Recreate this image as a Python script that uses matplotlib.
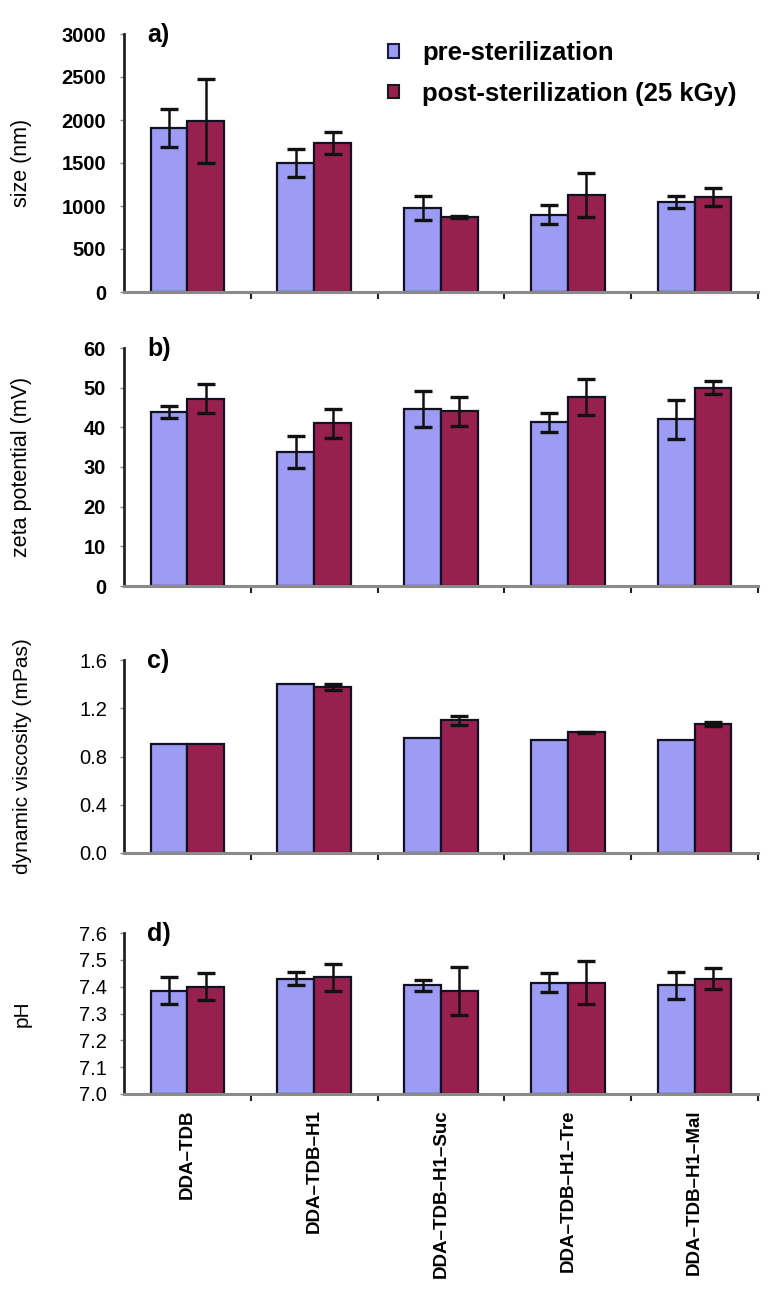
"""
Liposome properties before / after gamma sterilization (four stacked bar panels).
"""

import matplotlib
matplotlib.use("Agg")
import matplotlib.pyplot as plt
from matplotlib.patches import Patch
import numpy as np

plt.rcParams["font.family"] = ["Liberation Sans", "DejaVu Sans"]

# --- data ---
categories = ["DDA\u2013TDB", "DDA\u2013TDB\u2013H1", "DDA\u2013TDB\u2013H1\u2013Suc",
              "DDA\u2013TDB\u2013H1\u2013Tre", "DDA\u2013TDB\u2013H1\u2013Mal"]
series = ["pre-sterilization", "post-sterilization (25 kGy)"]

size_pre = [1910, 1500, 975, 900, 1045]
size_pre_err = [220, 160, 140, 110, 70]
size_post = [1990, 1730, 870, 1125, 1105]
size_post_err = [490, 125, 15, 255, 100]

zeta_pre = [43.8, 33.7, 44.7, 41.3, 42.0]
zeta_pre_err = [1.5, 4.0, 4.5, 2.4, 5.0]
zeta_post = [47.2, 41.0, 44.0, 47.7, 50.0]
zeta_post_err = [3.6, 3.6, 3.7, 4.6, 1.7]

visc_pre = [0.90, 1.40, 0.95, 0.94, 0.94]
visc_pre_err = [0, 0, 0, 0, 0]
visc_post = [0.90, 1.38, 1.10, 1.00, 1.07]
visc_post_err = [0, 0.025, 0.035, 0.005, 0.015]

ph_pre = [7.385, 7.43, 7.405, 7.415, 7.405]
ph_pre_err = [0.05, 0.025, 0.02, 0.035, 0.05]
ph_post = [7.40, 7.435, 7.385, 7.415, 7.43]
ph_post_err = [0.05, 0.05, 0.09, 0.08, 0.04]

# --- style ---
PRE_COLOR = "#9C9CF5"
POST_COLOR = "#98204F"
EDGE = "#111122"
W, H = 779, 1293

# axes boxes in pixels: (top, bottom)
PANELS = [
    dict(top=34, bot=292, pre=size_pre, pre_err=size_pre_err, post=size_post,
         post_err=size_post_err, ylim=(0, 3000), yticks=np.arange(0, 3001, 500),
         fmt="{:.0f}", ylabel="size (nm)", tag="a)", bold=True, lsize=15.5, base=0),
    dict(top=348, bot=586, pre=zeta_pre, pre_err=zeta_pre_err, post=zeta_post,
         post_err=zeta_post_err, ylim=(0, 60), yticks=np.arange(0, 61, 10),
         fmt="{:.0f}", ylabel="zeta potential (mV)", tag="b)", bold=True, lsize=15.5, base=0),
    dict(top=660, bot=853, pre=visc_pre, pre_err=visc_pre_err, post=visc_post,
         post_err=visc_post_err, ylim=(0, 1.6), yticks=np.arange(0, 1.61, 0.4),
         fmt="{:.1f}", ylabel="dynamic viscosity (mPas)", tag="c)", bold=False, lsize=15, base=0),
    dict(top=933, bot=1094, pre=ph_pre, pre_err=ph_pre_err, post=ph_post,
         post_err=ph_post_err, ylim=(7.0, 7.6), yticks=np.arange(7.0, 7.61, 0.1),
         fmt="{:.1f}", ylabel="pH", tag="d)", bold=False, lsize=15, base=7.0),
]

fig = plt.figure(figsize=(W / 100, H / 100), dpi=100)
fig.patch.set_facecolor("white")

x = np.arange(len(categories))
bw = 0.29
left, right = 124, 758

for i, p in enumerate(PANELS):
    ax = fig.add_axes([left / W, 1 - p["bot"] / H, (right - left) / W, (p["bot"] - p["top"]) / H])
    base = p["base"]
    for off, vals, errs, col in [(-bw / 2, p["pre"], p["pre_err"], PRE_COLOR),
                                 (bw / 2, p["post"], p["post_err"], POST_COLOR)]:
        vals = np.array(vals, dtype=float)
        errs = np.array(errs, dtype=float)
        ax.bar(x + off, vals - base, bw, bottom=base, color=col,
               edgecolor=EDGE, linewidth=1.6, zorder=2)
        m = errs > 0
        ax.errorbar(x[m] + off, vals[m], yerr=errs[m], fmt="none", ecolor="#111111",
                    elinewidth=1.8, capsize=6.5, capthick=2.4, zorder=3)

    ax.set_xlim(-0.5, len(categories) - 0.5)
    ax.set_ylim(*p["ylim"])
    ax.set_yticks(p["yticks"])
    ax.set_yticklabels([p["fmt"].format(v) for v in p["yticks"]],
                       fontsize=14.5, fontweight="bold" if p["bold"] else "normal")
    ax.tick_params(axis="y", length=3, width=1, color="#888888",
                   pad=10 if p["bold"] else 9)

    ax.set_xticks(x)
    ax.set_xticks(np.arange(0.5, len(categories), 1.0), minor=True)
    ax.tick_params(axis="x", which="major", length=0, pad=11)
    ax.tick_params(axis="x", which="minor", length=5, width=1.5, color="#222222")
    if i == len(PANELS) - 1:
        ax.set_xticklabels(categories, rotation=90, fontsize=13.5, fontweight="bold",
                           va="top", ha="center")
    else:
        ax.set_xticklabels([])

    for s in ["top", "right"]:
        ax.spines[s].set_visible(False)
    ax.spines["left"].set_linewidth(2.0)
    ax.spines["left"].set_color("#222222")
    ax.spines["bottom"].set_linewidth(2.2)
    ax.spines["bottom"].set_color("#8a8a8a")
    ax.spines["bottom"].set_zorder(4)

    ax.set_ylabel(p["ylabel"], fontsize=p["lsize"])
    ax.yaxis.set_label_coords(-0.145, 0.5)

    fig.text(147 / W, 1 - (p["top"] + 1) / H, p["tag"], fontsize=18,
             fontweight="bold", ha="left", va="center")

    if i == 0:
        handles = [Patch(facecolor=PRE_COLOR, edgecolor="#1a1a40", linewidth=1.5),
                   Patch(facecolor=POST_COLOR, edgecolor="#1a1a1a", linewidth=1.5)]
        ax.legend(handles, series, loc="upper left",
                  bbox_to_anchor=(365 / W, 1 - 18 / H), bbox_transform=fig.transFigure,
                  frameon=False, handlelength=0.42, handleheight=0.42,
                  handletextpad=0.9, labelspacing=0.65,
                  prop={"size": 18.5, "weight": "bold"})

fig.savefig("out.png", dpi=100)
plt.close(fig)
